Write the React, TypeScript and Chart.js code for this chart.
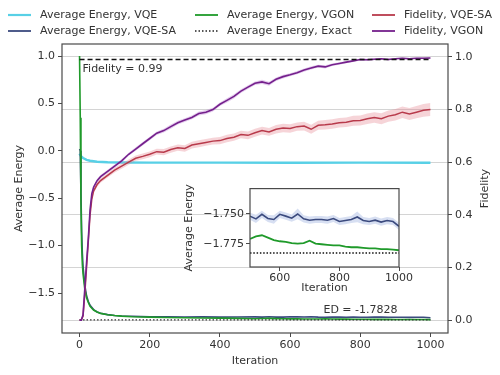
import React, { useEffect, useRef } from 'react';
import { Chart, registerables } from 'chart.js';

Chart.register(...registerables);

// ---------------- data ----------------
const xTicks = [0, 200, 400, 600, 800, 1000];
const energyTicks = [-1.5, -1.0, -0.5, 0.0, 0.5, 1.0];
const fidelityTicks = [0.0, 0.2, 0.4, 0.6, 0.8, 1.0];
const insetXTicks = [600, 800, 1000];
const insetYTicks = [-1.775, -1.75];

const fidIter = [0, 5, 10, 15, 20, 25, 30, 35, 40, 50, 60, 80,
  100, 120, 140, 160, 180, 200, 220, 240, 260, 280, 300, 320, 340, 360, 380, 400, 420, 440, 460, 480,
  500, 520, 540, 560, 580, 600, 620, 640, 660, 680, 700, 720, 740, 760, 780, 800, 820, 840, 860, 880,
  900, 920, 940, 960, 980, 1000];

const fidVGON = [0, 0, 0.02, 0.12, 0.22, 0.31, 0.42, 0.48, 0.505, 0.53, 0.545, 0.565,
  0.585, 0.605, 0.63, 0.65, 0.67, 0.69, 0.71, 0.72, 0.735, 0.75, 0.76, 0.77, 0.785, 0.79, 0.8, 0.82, 0.835, 0.85, 0.87, 0.885,
  0.9, 0.905, 0.898, 0.915, 0.925, 0.932, 0.94, 0.95, 0.958, 0.965, 0.962, 0.97, 0.975, 0.98, 0.985, 0.99, 0.989, 0.991, 0.993, 0.99,
  0.993, 0.995, 0.993, 0.995, 0.995, 0.996];
const fidVGONSpread = [0, 0.002, 0.005, 0.006, 0.006, 0.006, 0.006, 0.006, 0.006, 0.006, 0.006, 0.006,
  0.006, 0.006, 0.006, 0.007, 0.007, 0.007, 0.007, 0.007, 0.008, 0.007, 0.007, 0.007, 0.008, 0.008, 0.007, 0.007, 0.008, 0.008, 0.007, 0.007,
  0.007, 0.008, 0.008, 0.007, 0.007, 0.006, 0.006, 0.006, 0.006, 0.005, 0.006, 0.005, 0.005, 0.004, 0.004, 0.004, 0.004, 0.004, 0.003, 0.004,
  0.003, 0.003, 0.003, 0.003, 0.003, 0.003];

const fidVQESA = [0, 0, 0.015, 0.1, 0.2, 0.3, 0.4, 0.46, 0.49, 0.515, 0.53, 0.55,
  0.57, 0.585, 0.6, 0.615, 0.622, 0.63, 0.64, 0.638, 0.648, 0.655, 0.652, 0.665, 0.67, 0.675, 0.68, 0.682, 0.69, 0.695, 0.705, 0.702,
  0.712, 0.72, 0.715, 0.725, 0.73, 0.728, 0.735, 0.737, 0.725, 0.74, 0.742, 0.745, 0.75, 0.752, 0.757, 0.758, 0.765, 0.77, 0.765, 0.775,
  0.78, 0.79, 0.783, 0.79, 0.797, 0.8];
const fidVQESASpread = [0, 0.002, 0.005, 0.008, 0.008, 0.008, 0.008, 0.008, 0.008, 0.008, 0.008, 0.008,
  0.009, 0.01, 0.01, 0.01, 0.011, 0.011, 0.011, 0.012, 0.012, 0.012, 0.012, 0.013, 0.013, 0.013, 0.013, 0.014, 0.014, 0.014, 0.014, 0.015,
  0.015, 0.015, 0.015, 0.016, 0.016, 0.016, 0.016, 0.017, 0.017, 0.017, 0.018, 0.018, 0.018, 0.018, 0.019, 0.019, 0.02, 0.02, 0.021, 0.021,
  0.022, 0.022, 0.023, 0.023, 0.024, 0.025];

const eIter = [0, 2, 4, 6, 8, 10, 15, 20, 25, 30, 40, 50, 60, 80, 100, 120, 150, 200, 250, 300, 350, 400, 450,
  500, 520, 540, 560, 580, 600, 620, 640, 660, 680, 700, 720, 740, 760, 780, 800, 820, 840, 860, 880, 900, 920, 940, 960, 980, 1000];

const energyVQESA = [0.02, 0.0, -0.45, -0.85, -1.08, -1.22, -1.42, -1.53, -1.59, -1.63, -1.675, -1.7, -1.714, -1.728, -1.737, -1.742, -1.746, -1.75, -1.752, -1.753, -1.752, -1.754, -1.753,
  -1.7521, -1.7543, -1.7505, -1.754, -1.7548, -1.7505, -1.752, -1.7537, -1.7502, -1.7543, -1.7554, -1.7548, -1.7548, -1.7554, -1.754, -1.7565, -1.7557, -1.7548, -1.7527, -1.7557, -1.7565, -1.7554, -1.757, -1.7557, -1.7565, -1.7605];
const energyVQESASpread = [0.01, 0.01, 0.02, 0.02, 0.02, 0.02, 0.015, 0.01, 0.008, 0.006, 0.005, 0.004, 0.004, 0.003, 0.003, 0.003, 0.003, 0.003, 0.003, 0.003, 0.003, 0.003, 0.003,
  0.003, 0.0035, 0.003, 0.003, 0.0035, 0.003, 0.003, 0.003, 0.0045, 0.003, 0.003, 0.003, 0.003, 0.003, 0.003, 0.003, 0.003, 0.003, 0.0045, 0.003, 0.003, 0.003, 0.003, 0.003, 0.003, 0.003];

const energyVGON = [1.0, 0.35, -0.55, -1.0, -1.2, -1.3, -1.46, -1.55, -1.6, -1.64, -1.68, -1.7, -1.715, -1.73, -1.738, -1.744, -1.75, -1.755, -1.758, -1.761, -1.763, -1.765, -1.768,
  -1.771, -1.769, -1.768, -1.77, -1.772, -1.773, -1.7735, -1.7745, -1.775, -1.7745, -1.7725, -1.775, -1.7755, -1.776, -1.7765, -1.7765, -1.7775, -1.778, -1.778, -1.7785, -1.779, -1.779, -1.7795, -1.7795, -1.78, -1.7805];

const vqeIter = [0, 3, 5, 10, 20, 30, 50, 80, 120, 200, 400, 600, 800, 1000];
const energyVQE = [-0.03, -0.05, -0.06, -0.075, -0.095, -0.105, -0.115, -0.12, -0.123, -0.125, -0.125, -0.126, -0.125, -0.126];

const EXACT_ENERGY = -1.7828;
const FIDELITY_TARGET = 0.99;
const REF_RANGE = [0, 1000];
const ED_LABEL_ITER = 695;
const INSET_START = 500;

// ---------------- styles ----------------
const FONT = "'DejaVu Sans', sans-serif";
const TEXT = '#333333';
const FRAME = '#4a4a4a';
const CYAN = '#58d0e6';
const NAVY = '#3b4a7e';
const GREEN = '#1f9a2a';
const RED = '#b83a4b';
const PURPLE = '#74208c';
const RED_BAND = 'rgba(226,120,135,0.32)';
const PURPLE_BAND = 'rgba(170,90,200,0.30)';
const NAVY_BAND = 'rgba(110,140,210,0.28)';

const pts = (xs: number[], ys: number[], d = 0, sp?: number[]) =>
  xs.map((x, i) => ({ x, y: ys[i] + d * (sp ? sp[i] : 0) }));

const fmt = (v: number, digits: number) => (v < 0 ? '\u2212' : '') + Math.abs(v).toFixed(digits);

const line = (data: any[], color: string, width: number, axis: string, extra: any = {}) => ({
  data, borderColor: color, backgroundColor: color, borderWidth: width, pointRadius: 0,
  tension: 0, fill: false, yAxisID: axis, ...extra,
});
const band = (data: any[], color: string, axis: string, fillPrev: boolean) => ({
  data, borderWidth: 0, borderColor: 'rgba(0,0,0,0)', backgroundColor: color, pointRadius: 0,
  tension: 0, fill: fillPrev ? '-1' : false, yAxisID: axis,
});

const legendItems = [
  { label: 'Average Energy, VQE', color: CYAN, width: 2.2, dash: [] as number[], col: 0, row: 0 },
  { label: 'Average Energy, VQE-SA', color: NAVY, width: 1.8, dash: [], col: 0, row: 1 },
  { label: 'Average Energy, VGON', color: GREEN, width: 1.8, dash: [], col: 1, row: 0 },
  { label: 'Average Energy, Exact', color: '#222', width: 1.5, dash: [1.5, 2], col: 1, row: 1 },
  { label: 'Fidelity, VQE-SA', color: RED, width: 1.8, dash: [], col: 2, row: 0 },
  { label: 'Fidelity, VGON', color: PURPLE, width: 1.8, dash: [], col: 2, row: 1 },
];
const legendColX = [8, 195, 372];
const legendRowY = [15, 31];

const mainDecor = {
  id: 'mainDecor',
  beforeDraw(chart: any) {
    const { ctx, width, height } = chart;
    ctx.save();
    ctx.fillStyle = '#ffffff';
    ctx.fillRect(0, 0, width, height);
    ctx.restore();
  },
  afterDraw(chart: any) {
    const { ctx, chartArea: a, scales } = chart;
    ctx.save();
    ctx.strokeStyle = FRAME;
    ctx.lineWidth = 1.2;
    ctx.setLineDash([]);
    ctx.strokeRect(a.left, a.top, a.right - a.left, a.bottom - a.top);

    ctx.fillStyle = TEXT;
    ctx.font = `11px ${FONT}`;
    // annotations
    ctx.textAlign = 'left';
    ctx.textBaseline = 'middle';
    ctx.fillText('Fidelity = 0.99', scales.x.getPixelForValue(REF_RANGE[0]) + 3, scales.y1.getPixelForValue(FIDELITY_TARGET) + 10);
    ctx.fillText('ED = -1.7828', scales.x.getPixelForValue(ED_LABEL_ITER), scales.y.getPixelForValue(EXACT_ENERGY) - 10);

    // legend
    legendItems.forEach((it) => {
      const x0 = legendColX[it.col];
      const y0 = legendRowY[it.row];
      ctx.strokeStyle = it.color;
      ctx.lineWidth = it.width;
      ctx.setLineDash(it.dash);
      ctx.beginPath();
      ctx.moveTo(x0, y0);
      ctx.lineTo(x0 + 23, y0);
      ctx.stroke();
      ctx.setLineDash([]);
      ctx.fillStyle = TEXT;
      ctx.fillText(it.label, x0 + 32, y0);
    });

    // right axis title
    ctx.translate(485, (a.top + a.bottom) / 2);
    ctx.rotate(-Math.PI / 2);
    ctx.textAlign = 'center';
    ctx.fillText('Fidelity', 0, 0);
    ctx.restore();
  },
};

const insetDecor = {
  id: 'insetDecor',
  beforeDraw(chart: any) {
    const { ctx, chartArea: a } = chart;
    ctx.save();
    ctx.fillStyle = '#ffffff';
    ctx.fillRect(a.left, a.top, a.right - a.left, a.bottom - a.top);
    ctx.restore();
  },
  afterDraw(chart: any) {
    const { ctx, chartArea: a } = chart;
    ctx.save();
    ctx.strokeStyle = FRAME;
    ctx.lineWidth = 1.2;
    ctx.strokeRect(a.left, a.top, a.right - a.left, a.bottom - a.top);
    ctx.restore();
  },
};

export default function App() {
  const mainRef = useRef<HTMLCanvasElement>(null);
  const insetRef = useRef<HTMLCanvasElement>(null);

  useEffect(() => {
    Chart.defaults.font.family = FONT;
    Chart.defaults.font.size = 11;
    Chart.defaults.color = TEXT;

    const tickFont = { family: FONT, size: 11 };

    const main = new Chart(mainRef.current as HTMLCanvasElement, {
      type: 'line',
      data: {
        datasets: [
          line(REF_RANGE.map((x) => ({ x, y: FIDELITY_TARGET })), '#111', 1.5, 'y1', { borderDash: [5, 3] }),
          line(pts(fidIter, fidVGON), PURPLE, 1.6, 'y1'),
          band(pts(fidIter, fidVGON, -1, fidVGONSpread), PURPLE_BAND, 'y1', false),
          band(pts(fidIter, fidVGON, 1, fidVGONSpread), PURPLE_BAND, 'y1', true),
          line(pts(fidIter, fidVQESA), RED, 1.5, 'y1'),
          band(pts(fidIter, fidVQESA, -1, fidVQESASpread), RED_BAND, 'y1', false),
          band(pts(fidIter, fidVQESA, 1, fidVQESASpread), RED_BAND, 'y1', true),
          line(REF_RANGE.map((x) => ({ x, y: EXACT_ENERGY })), '#333', 1.2, 'y', { borderDash: [1.5, 2] }),
          line(pts(eIter, energyVGON), GREEN, 1.6, 'y'),
          line(pts(eIter, energyVQESA), NAVY, 1.6, 'y'),
          band(pts(eIter, energyVQESA, -1, energyVQESASpread), NAVY_BAND, 'y', false),
          band(pts(eIter, energyVQESA, 1, energyVQESASpread), NAVY_BAND, 'y', true),
          line(pts(vqeIter, energyVQE), CYAN, 2.4, 'y'),
        ] as any,
      },
      options: {
        animation: false,
        responsive: false,
        maintainAspectRatio: false,
        events: [],
        layout: { padding: { top: 44, left: 0, right: 0, bottom: 0 } },
        plugins: { legend: { display: false }, tooltip: { enabled: false } },
        scales: {
          x: {
            type: 'linear', min: -50, max: 1050,
            afterBuildTicks: (s: any) => { s.ticks = xTicks.map((v) => ({ value: v })); },
            afterFit: (s: any) => { s.height = 42; },
            grid: { drawOnChartArea: false, tickLength: 4, tickColor: FRAME },
            border: { display: false },
            ticks: { padding: 2, font: tickFont, color: TEXT, autoSkip: false, maxRotation: 0, callback: (v: any) => String(v) },
            title: { display: true, text: 'Iteration', font: tickFont, color: TEXT, padding: { top: 0, bottom: 7.5 } },
          },
          y: {
            type: 'linear', position: 'left', min: -1.922, max: 1.127,
            afterBuildTicks: (s: any) => { s.ticks = energyTicks.map((v) => ({ value: v })); },
            afterFit: (s: any) => { s.width = 62; },
            grid: { drawOnChartArea: false, tickLength: 4, tickColor: FRAME },
            border: { display: false },
            ticks: { padding: 3, font: tickFont, color: TEXT, autoSkip: false, callback: (v: any) => fmt(v, 1) },
            title: { display: true, text: 'Average Energy', font: tickFont, color: TEXT, padding: { top: 12.5, bottom: 0 } },
          },
          y1: {
            type: 'linear', position: 'right', min: -0.049, max: 1.049,
            afterBuildTicks: (s: any) => { s.ticks = fidelityTicks.map((v) => ({ value: v })); },
            afterFit: (s: any) => { s.width = 52; },
            grid: { drawOnChartArea: true, color: '#d4d4d4', lineWidth: 1, tickLength: 4, tickColor: FRAME },
            border: { display: false },
            ticks: { padding: 3, font: tickFont, color: TEXT, autoSkip: false, callback: (v: any) => fmt(v, 1) },
          },
        },
      } as any,
      plugins: [mainDecor],
    });

    const iIdx = eIter.map((x, i) => i).filter((i) => eIter[i] >= INSET_START);
    const sub = (arr: number[]) => iIdx.map((i) => arr[i]);
    const insIter = sub(eIter);

    const inset = new Chart(insetRef.current as HTMLCanvasElement, {
      type: 'line',
      data: {
        datasets: [
          line(pts(insIter, sub(energyVGON)), GREEN, 1.8, 'y'),
          line([INSET_START, REF_RANGE[1]].map((x) => ({ x, y: EXACT_ENERGY })), '#111', 1.5, 'y', { borderDash: [1.5, 1.8] }),
          line(pts(insIter, sub(energyVQESA)), NAVY, 1.6, 'y'),
          band(pts(insIter, sub(energyVQESA), -1, sub(energyVQESASpread)), NAVY_BAND, 'y', false),
          band(pts(insIter, sub(energyVQESA), 1, sub(energyVQESASpread)), NAVY_BAND, 'y', true),
        ] as any,
      },
      options: {
        animation: false,
        responsive: false,
        maintainAspectRatio: false,
        events: [],
        layout: { padding: { top: 7, left: 0, right: 21, bottom: 0 } },
        plugins: { legend: { display: false }, tooltip: { enabled: false } },
        scales: {
          x: {
            type: 'linear', min: INSET_START, max: REF_RANGE[1],
            afterBuildTicks: (s: any) => { s.ticks = insetXTicks.map((v) => ({ value: v })); },
            afterFit: (s: any) => { s.height = 33; },
            grid: { drawOnChartArea: false, tickLength: 4, tickColor: FRAME },
            border: { display: false },
            ticks: { padding: 1, font: tickFont, color: TEXT, autoSkip: false, maxRotation: 0, callback: (v: any) => String(v) },
            title: { display: true, text: 'Iteration', font: tickFont, color: TEXT, padding: { top: 0, bottom: 5.5 } },
          },
          y: {
            type: 'linear', position: 'left', min: -1.7945, max: -1.729,
            afterBuildTicks: (s: any) => { s.ticks = insetYTicks.map((v) => ({ value: v })); },
            afterFit: (s: any) => { s.width = 75; },
            grid: { drawOnChartArea: false, tickLength: 4, tickColor: FRAME },
            border: { display: false },
            ticks: { padding: 2, font: tickFont, color: TEXT, autoSkip: false, callback: (v: any) => fmt(v, 3) },
            title: { display: true, text: 'Average Energy', font: tickFont, color: TEXT, padding: { top: 8, bottom: 0 } },
          },
        },
      } as any,
      plugins: [insetDecor],
    });

    return () => {
      main.destroy();
      inset.destroy();
    };
  }, []);

  return (
    <div style={{ position: 'fixed', left: 0, top: 0, width: 500, height: 375, background: '#ffffff' }}>
      <canvas ref={mainRef} width={500} height={375} style={{ position: 'absolute', left: 0, top: 0, width: 500, height: 375 }} />
      <canvas ref={insetRef} width={245} height={120} style={{ position: 'absolute', left: 175, top: 180, width: 245, height: 120 }} />
    </div>
  );
}
